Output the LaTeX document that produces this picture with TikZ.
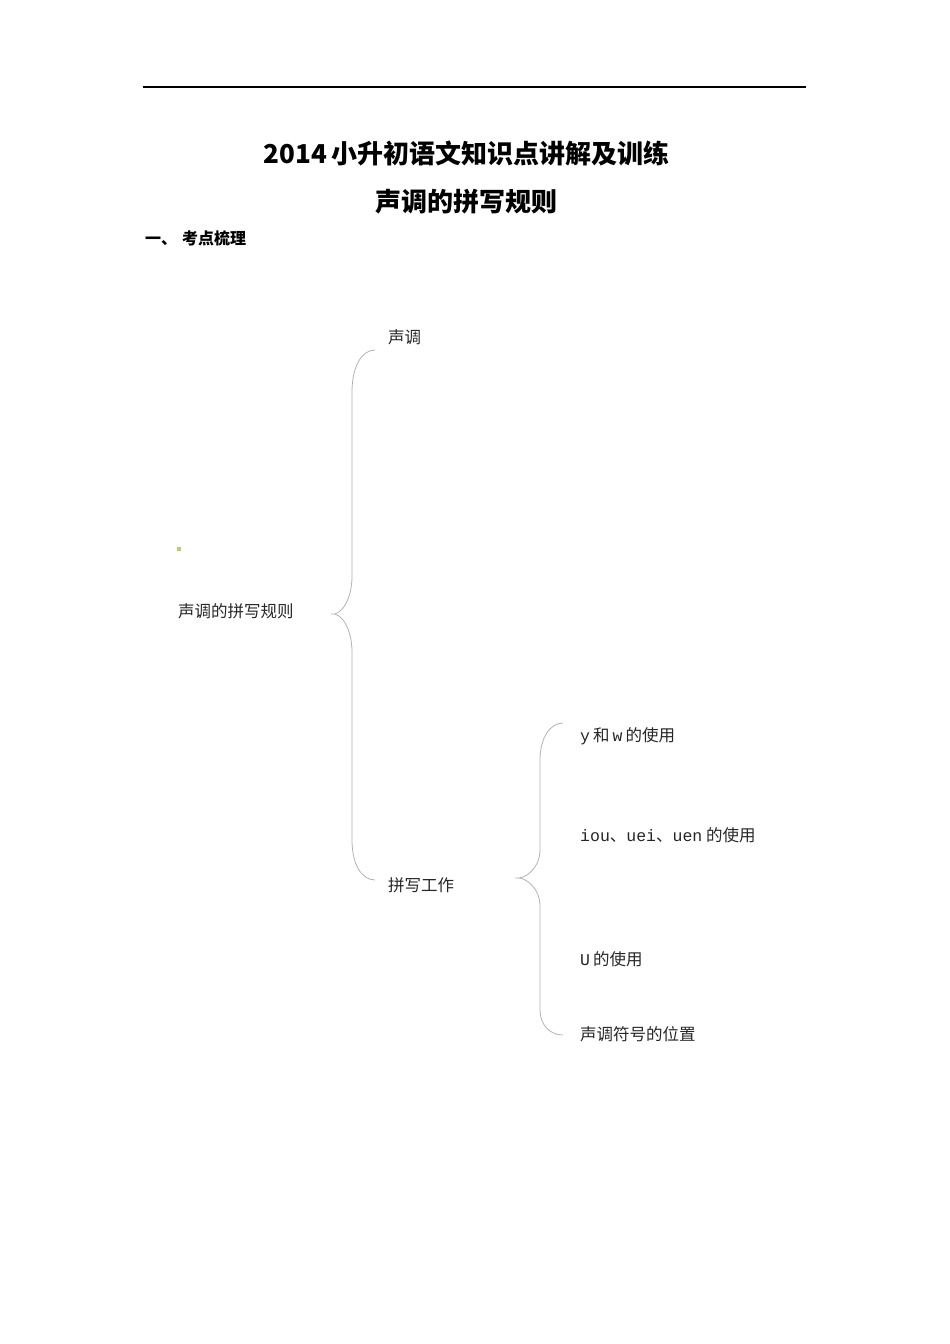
\documentclass[tikz,border=0pt]{standalone}
\usepackage{fontspec}
\setmainfont{Noto Sans CJK SC}
\newfontfamily\lat{Liberation Mono}
\begin{document}
\begin{tikzpicture}[x=1pt,y=-1pt,
  txt/.style={anchor=base west,inner sep=0pt,font=\fontsize{16.5}{18}\selectfont,text=black!85},
  brace/.style={draw=black!30,line width=0.8pt}]
\useasboundingbox (0,0) rectangle (950,1344);
% top rule
\draw[line width=1.3pt] (143,87) -- (806,87);
% titles
\node[anchor=base,inner sep=0pt,font=\fontsize{26}{30}\selectfont\bfseries] (title) at (466.5,163) {2014\hspace{4pt}小升初语文知识点讲解及训练};
\node[anchor=base,inner sep=0pt,font=\fontsize{26}{30}\selectfont\bfseries] (sub) at (466.5,211) {声调的拼写规则};
\node[anchor=base west,inner sep=0pt,font=\fontsize{16}{18}\selectfont\bfseries] (head) at (145,244) {一、\hspace{5pt}考点梳理};
% green dot
\fill[fill={rgb,255:red,200;green,200;blue,110}] (176.5,546.5) rectangle (180.5,550.5);
% nodes
\node[txt] (root) at (178,617) {声调的拼写规则};
\node[txt] (sd) at (388,343) {声调};
\node[txt] (pxgz) at (388,891) {拼写工作};
\node[txt] (c1) at (580,741) {{\lat y}\hspace{3pt}和\hspace{3pt}{\lat w}\hspace{3pt}的使用};
\node[txt] (c2) at (580,841) {{\lat iou}、{\lat uei}、{\lat uen} 的使用};
\node[txt] (c3) at (580,965) {{\lat U}\hspace{3pt}的使用};
\node[txt] (c4) at (580,1040) {声调符号的位置};
% brace coordinates
\coordinate (b1t) at (375,350);
\coordinate (b1m) at (331,614);
\coordinate (b1b) at (375,880);
\coordinate (b2t) at (563,723);
\coordinate (b2m) at (515,878);
\coordinate (b2b) at (563,1035);
% brace 1
\draw[brace] (b1t) .. controls (362,350) and (352,366) .. (352,392)
  -- (352,576) .. controls (352,600) and ([xshift=10,yshift=-2]b1m) .. (b1m)
  .. controls ([xshift=10,yshift=2]b1m) and (352,628) .. (352,652)
  -- (352,840) .. controls (352,865) and (362,880) .. (b1b);
% brace 2
\draw[brace] (b2t) .. controls (550,723) and (540,738) .. (540,760)
  -- (540,850) .. controls (540,868) and ([xshift=10,yshift=-2]b2m) .. (b2m)
  .. controls ([xshift=10,yshift=2]b2m) and (540,888) .. (540,906)
  -- (540,1010) .. controls (540,1025) and (550,1035) .. (b2b);
\end{tikzpicture}
\end{document}
